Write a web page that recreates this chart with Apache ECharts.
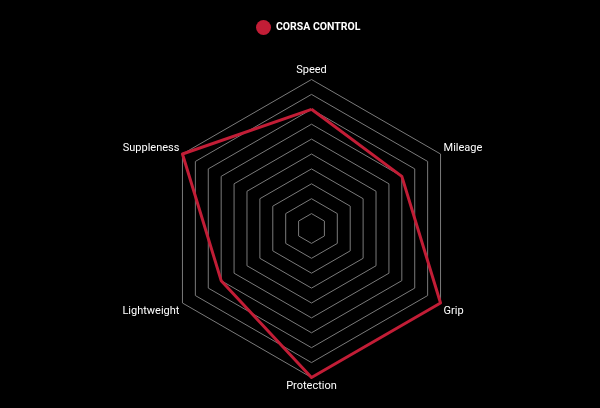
<!DOCTYPE html>
<html>
<head>
<meta charset="utf-8">
<style>
  html, body { margin: 0; padding: 0; background: #000; }
  #chart { width: 600px; height: 408px; }
</style>
<script src="https://cdn.jsdelivr.net/npm/echarts@6/dist/echarts.min.js"></script>
</head>
<body>
<div id="chart"></div>
<script>
const indicatorNames = ['Speed', 'Suppleness', 'Lightweight', 'Protection', 'Grip', 'Mileage'];
const indicatorMax = [10, 10, 10, 10, 10, 10];
const seriesName = 'CORSA CONTROL';
const seriesValues = [8, 10, 7, 10, 10, 7];

// side labels sit above / below their corner instead of centred on it
const labelStyleByName = {
    Suppleness: 'up',
    Mileage: 'up',
    Lightweight: 'down',
    Grip: 'down'
};

const chart = echarts.init(document.getElementById('chart'));

chart.setOption({
    backgroundColor: '#000',
    animation: false,
    legend: {
        top: 15,
        left: 251,
        icon: 'circle',
        itemWidth: 15,
        itemHeight: 15,
        textStyle: {
            color: '#fff',
            fontFamily: 'Roboto',
            fontWeight: 'bold',
            fontSize: 10.5
        },
        data: [seriesName]
    },
    radar: {
        center: [311.5, 228.5],
        radius: 149,
        startAngle: 90,
        splitNumber: 10,
        shape: 'polygon',
        indicator: indicatorNames.map((name, i) => ({ name, max: indicatorMax[i] })),
        axisName: {
            color: '#fff',
            fontFamily: 'Roboto',
            fontSize: 11,
            formatter: (name) => {
                const style = labelStyleByName[name];
                return style ? `{${style}|${name}}` : name;
            },
            rich: {
                up: { color: '#fff', fontFamily: 'Roboto', fontSize: 11, padding: [0, 0, 9, 0] },
                down: { color: '#fff', fontFamily: 'Roboto', fontSize: 11, padding: [12, 0, 0, 0] }
            }
        },
        nameGap: 3.5,
        axisLine: { show: false },
        splitArea: { show: false },
        splitLine: {
            lineStyle: { color: '#7a7a7a', width: 1 }
        }
    },
    series: [{
        name: seriesName,
        type: 'radar',
        symbol: 'none',
        itemStyle: { color: '#c21d36' },
        lineStyle: { color: '#c21d36', width: 3 },
        data: [{ value: seriesValues, name: seriesName }]
    }]
});
</script>
</body>
</html>
